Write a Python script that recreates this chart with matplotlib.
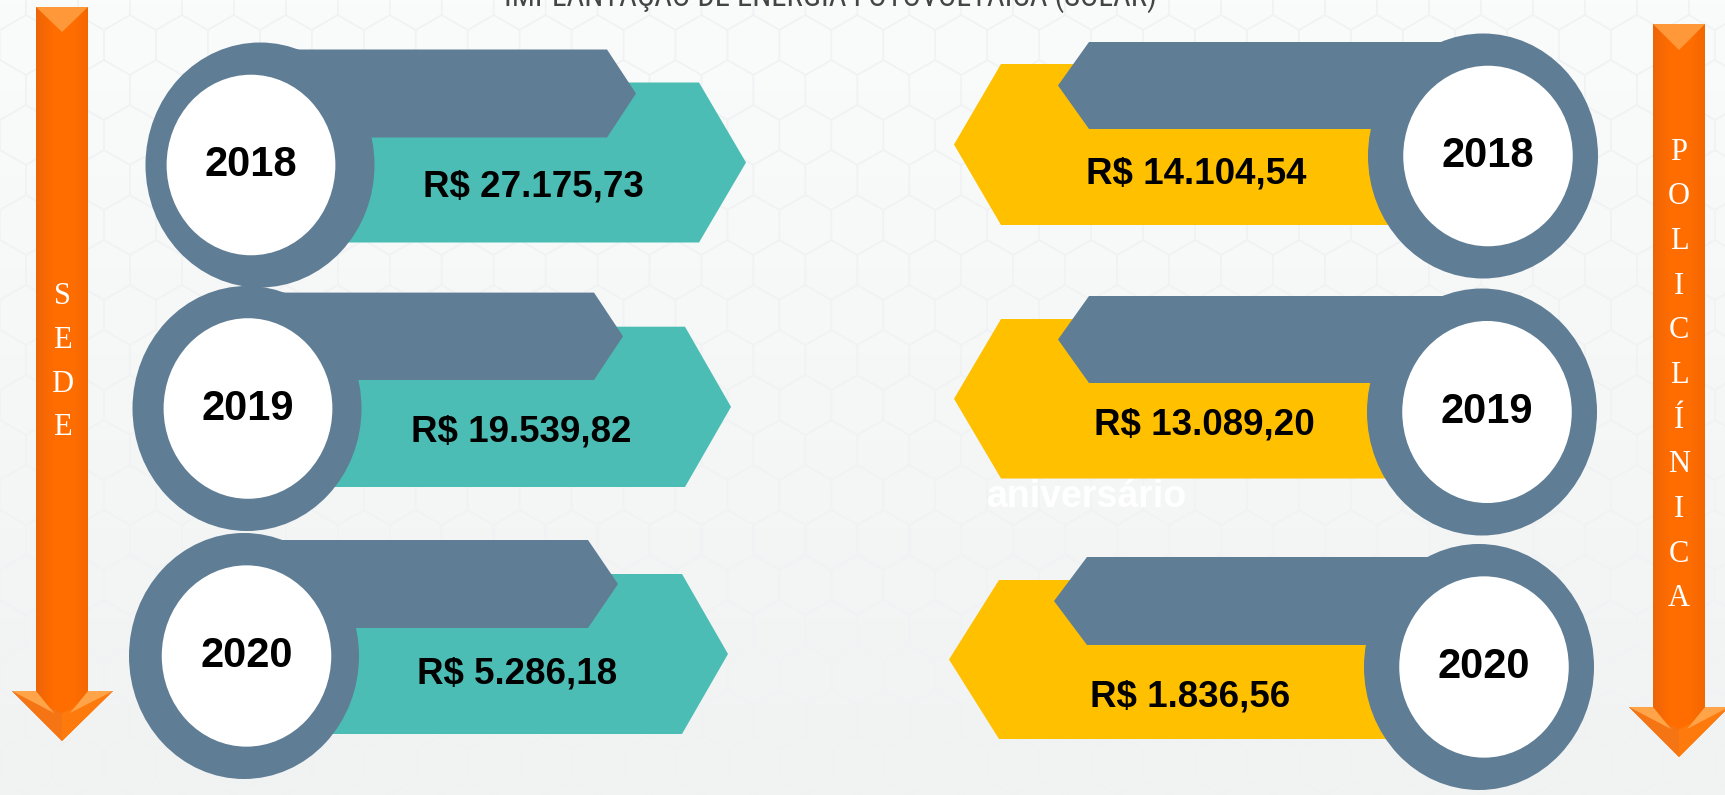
import matplotlib
matplotlib.use("Agg")
import matplotlib.pyplot as plt
import numpy as np
from matplotlib.patches import Ellipse, Polygon, RegularPolygon
from matplotlib.colors import LinearSegmentedColormap
from matplotlib import font_manager

# ---- data ----
title = "IMPLANTAÇÃO DE ENERGIA FOTOVOLTAICA (SOLAR)"
years = ["2018", "2019", "2020"]
sede_values = [27175.73, 19539.82, 5286.18]
poli_values = [14104.54, 13089.20, 1836.56]
left_label = "SEDE"
right_label = "POLICLÍNICA"
watermark = "aniversário"

# ---- colours ----
BG_TOP, BG_BOT = "#fafbfb", "#f1f2f2"
SLATE = "#5f7d95"
TEAL = "#4bbdb4"
YELLOW = "#ffc000"

W, H = 1725, 795


def pick(*names):
    avail = {f.name for f in font_manager.fontManager.ttflist}
    for n in names:
        if n in avail:
            return n
    return "DejaVu Sans"


bold_font = pick("Liberation Sans", "Arial", "DejaVu Sans")
narrow_font = pick("Liberation Sans Narrow", "Roboto Condensed", "Liberation Sans")
serif_font = pick("Liberation Serif", "DejaVu Serif")


def brl(v):
    s = f"{v:,.2f}"
    return "R$ " + s.replace(",", "X").replace(".", ",").replace("X", ".")


fig = plt.figure(figsize=(W / 100, H / 100), dpi=100)
ax = fig.add_axes([0, 0, 1, 1])
ax.set_xlim(0, W)
ax.set_ylim(H, 0)
ax.axis("off")

# background: soft vertical gradient + faint hexagon texture
bg = LinearSegmentedColormap.from_list("bg", [BG_TOP, BG_BOT])
ax.imshow(np.linspace(0, 1, 256).reshape(-1, 1), cmap=bg, extent=(0, W, H, 0),
          aspect="auto", zorder=0)
r = 30
dx, dy = r * np.sqrt(3), r * 1.5
for j in range(int(H / dy) + 2):
    for i in range(int(W / dx) + 2):
        x = i * dx + (dx / 2 if j % 2 else 0)
        ax.add_patch(RegularPolygon((x, j * dy), 6, radius=r, fill=False,
                                    ec="#f0f2f3", lw=1, zorder=0.5))

# ---- orange side arrows ----
shaft = LinearSegmentedColormap.from_list(
    "shaft", ["#c8540c", "#e8620a", "#ff6c00", "#ff6e00", "#f06400", "#c9580e"])


def side_arrow(x0, x1, top, hb, hx0, hx1, tip, chev, letters, ly0, lstep):
    xc = (x0 + x1) / 2
    pts = [(x0, top), (x1, top), (x1, hb), (hx1, hb), (xc, tip), (hx0, hb), (x0, hb)]
    outline = Polygon(pts, closed=True, fc="none", ec="none", zorder=2)
    ax.add_patch(outline)
    im = ax.imshow(np.linspace(0, 1, 256).reshape(1, -1), cmap=shaft,
                   extent=(hx0, hx1, tip, top), aspect="auto", zorder=2)
    im.set_clip_path(outline)
    # head facets
    ax.add_patch(Polygon([(hx0, hb), (xc, hb + 22), (xc, tip)], closed=True,
                         fc="#f57514", ec="none", zorder=2.1))
    ax.add_patch(Polygon([(hx1, hb), (xc, hb + 22), (xc, tip)], closed=True,
                         fc="#ff7a0c", ec="none", zorder=2.1))
    ax.add_patch(Polygon([(hx0, hb), (x0, hb), (xc - 8, hb + 22)], closed=True,
                         fc="#ffa448", ec="none", zorder=2.2))
    ax.add_patch(Polygon([(hx1, hb), (x1, hb), (xc + 8, hb + 22)], closed=True,
                         fc="#ffa448", ec="none", zorder=2.2))
    # top chevron
    ax.add_patch(Polygon([(x0, top), (x1, top), (xc, chev)], closed=True,
                         fc="#ff9838", ec="none", zorder=2.2))
    for k, ch in enumerate(letters):
        ax.text(xc, ly0 + k * lstep, ch, color="white", fontsize=22,
                family=serif_font, ha="center", va="center", zorder=3)


side_arrow(36, 88, 7, 691, 12, 113, 741, 32, left_label, 297, 43.5)
side_arrow(1653, 1705, 24, 707, 1629, 1729, 757, 50, right_label, 152, 44.7)

# ---- cards ----
# (ring cx, cy, w, h, inner cx, slate top, bottom, flat, tip,
#  band top, bottom, flat, tip, value x, y)
left_layout = [
    (260, 165, 229, 245, 251, 49.5, 137.5, 607, 636, 82.5, 242.5, 699, 746, 533, 187),
    (247, 408.5, 229, 245, 248, 292.6, 380, 594, 623, 326.7, 487, 685, 731, 521, 432),
    (244, 656, 230, 246, 246.5, 540, 628, 588, 618, 574, 734, 682, 728, 517, 674),
]
right_layout = [
    (1483, 156, 230, 245, 1488, 42, 129, 1089, 1058, 64, 225, 1001, 954, 1196, 174),
    (1482, 412, 230, 247, 1487, 296, 383, 1089, 1058, 319, 478.5, 1001, 954, 1204, 425),
    (1479, 667, 230, 246, 1484, 557, 645, 1087, 1054, 580, 739, 999, 949, 1190, 697),
]


def card(lay, year, value, band_color):
    cx, cy, w, h, wx, st, sb, sf, stip, bt, bb, bf, btip, vx, vy = lay
    bm, sm = (bt + bb) / 2, (st + sb) / 2
    band = [(cx, bt), (bf, bt), (btip, bm), (bf, bb), (cx, bb)]
    slate = [(cx, st), (sf, st), (stip, sm), (sf, sb), (cx, sb)]
    ax.add_patch(Polygon(band, closed=True, fc=band_color, ec="none", zorder=4))
    ax.add_patch(Polygon(slate, closed=True, fc=SLATE, ec="none", zorder=5))
    ax.add_patch(Ellipse((cx, cy), w, h, fc=SLATE, ec="none", zorder=6))
    ax.add_patch(Ellipse((wx, cy), w * 0.737, h * 0.737, fc="white", ec="none", zorder=7))
    ax.text(wx, cy, year, fontsize=30, fontweight="bold", family=bold_font,
            ha="center", va="center", color="black", zorder=8)
    ax.text(vx, vy, brl(value), fontsize=26.5, fontweight="bold", family=bold_font,
            ha="center", va="center", color="black", zorder=8)


for lay, yr, v in zip(left_layout, years, sede_values):
    card(lay, yr, v, TEAL)
for lay, yr, v in zip(right_layout, years, poli_values):
    card(lay, yr, v, YELLOW)

# faint white watermark word
ax.text(1087, 497, watermark, fontsize=27, fontweight="bold", family=bold_font,
        ha="center", va="center", color="white", zorder=3)

# title, mostly cut off by the top edge (as in the source); scaled to its width
t = ax.text(830, 6, title, fontsize=20, family=narrow_font, color="#454545",
            ha="center", va="baseline", zorder=3)
fig.canvas.draw()
bw = t.get_window_extent().width
t.set_fontsize(20 * 653 / bw)

fig.savefig("out.png", dpi=100)
